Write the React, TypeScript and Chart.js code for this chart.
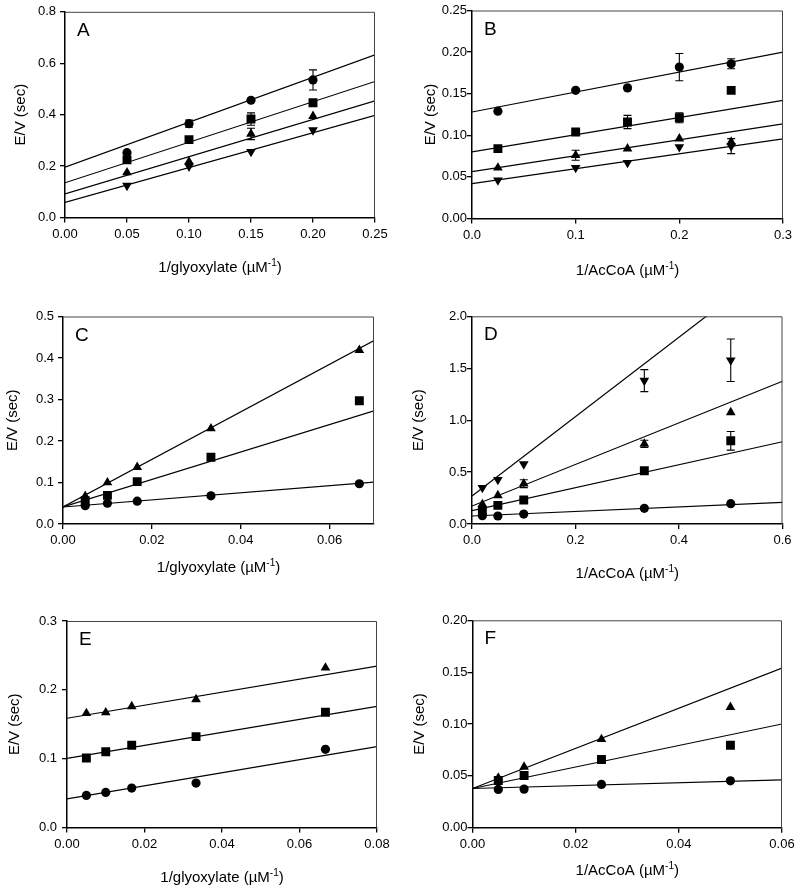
import React, { useEffect, useRef } from 'react';
import { Chart, registerables } from 'chart.js';
Chart.register(...registerables);

// ---------- Panel A ----------
const A_X = [0.05, 0.10, 0.15, 0.20];
const A_CIRCLE = [0.252, 0.365, 0.456, 0.535];
const A_CIRCLE_ERR = [0, 0.014, 0, 0.039];
const A_SQUARE = [0.224, 0.303, 0.383, 0.446];
const A_SQUARE_ERR = [0, 0, 0.024, 0];
const A_TRIANGLE = [0.175, 0.217, 0.325, 0.394];
const A_TRIANGLE_ERR = [0, 0, 0.022, 0];
const A_INVTRI = [0.124, 0.199, 0.256, 0.340];
const A_FIT_INTERCEPT = [0.196, 0.135, 0.092, 0.059];
const A_FIT_SLOPE = [1.748, 1.576, 1.448, 1.352];
const A_X_TICKS = [0, 0.05, 0.10, 0.15, 0.20, 0.25];
const A_Y_TICKS = [0, 0.2, 0.4, 0.6, 0.8];

// ---------- Panel B ----------
const B_X = [0.025, 0.10, 0.15, 0.20, 0.25];
const B_CIRCLE = [0.129, 0.154, 0.157, 0.182, 0.186];
const B_CIRCLE_ERR = [0, 0, 0, 0.0164, 0.006];
const B_SQUARE = [0.084, 0.104, 0.116, 0.121, 0.154];
const B_SQUARE_ERR = [0, 0, 0.008, 0.006, 0];
const B_TRIANGLE = [0.061, 0.076, 0.084, 0.096, 0.092];
const B_TRIANGLE_ERR = [0, 0.006, 0, 0, 0];
const B_INVTRI = [0.046, 0.061, 0.067, 0.086, 0.087];
const B_INVTRI_ERR = [0, 0, 0, 0, 0.009];
const B_FIT_INTERCEPT = [0.128, 0.080, 0.0564, 0.042];
const B_FIT_SLOPE = [0.24, 0.207, 0.191, 0.179];
const B_X_TICKS = [0, 0.1, 0.2, 0.3];
const B_Y_TICKS = [0, 0.05, 0.10, 0.15, 0.20, 0.25];

// ---------- Panel C ----------
const C_X = [0.005, 0.01, 0.0167, 0.0333, 0.0667];
const C_CIRCLE = [0.044, 0.050, 0.055, 0.068, 0.097];
const C_SQUARE = [0.056, 0.069, 0.102, 0.161, 0.297];
const C_TRIANGLE = [0.067, 0.100, 0.137, 0.230, 0.419];
const C_FIT_INTERCEPT = [0.041, 0.041, 0.041];
const C_FIT_SLOPE = [0.857, 3.31, 5.73];
const C_X_MAX = 0.07;
const C_X_TICKS = [0, 0.02, 0.04, 0.06];
const C_Y_TICKS = [0, 0.1, 0.2, 0.3, 0.4, 0.5];

// ---------- Panel D ----------
const D_X = [0.02, 0.05, 0.10, 0.333, 0.50];
const D_CIRCLE = [0.080, 0.077, 0.096, 0.151, 0.196];
const D_SQUARE = [0.125, 0.179, 0.231, 0.513, 0.801];
const D_SQUARE_ERR = [0, 0, 0, 0, 0.09];
const D_TRIANGLE = [0.19, 0.276, 0.388, 0.772, 1.074];
const D_TRIANGLE_ERR = [0, 0, 0.038, 0.035, 0];
const D_INVTRI = [0.349, 0.426, 0.577, 1.381, 1.577];
const D_INVTRI_ERR = [0, 0, 0, 0.106, 0.205];
const D_FIT_INTERCEPT = [0.077, 0.128, 0.173, 0.269];
const D_FIT_SLOPE = [0.219, 1.107, 2.003, 3.824];
const D_X_TICKS = [0, 0.2, 0.4, 0.6];
const D_Y_TICKS = [0, 0.5, 1.0, 1.5, 2.0];

// ---------- Panel E ----------
const E_X = [0.005, 0.01, 0.0167, 0.0333, 0.0667];
const E_CIRCLE = [0.0466, 0.051, 0.0573, 0.0646, 0.1136];
const E_SQUARE = [0.101, 0.110, 0.1194, 0.132, 0.1675];
const E_TRIANGLE = [0.166, 0.167, 0.176, 0.186, 0.232];
const E_FIT_INTERCEPT = [0.0417, 0.1005, 0.1587];
const E_FIT_SLOPE = [0.947, 0.944, 0.947];
const E_X_TICKS = [0, 0.02, 0.04, 0.06, 0.08];
const E_Y_TICKS = [0, 0.1, 0.2, 0.3];

// ---------- Panel F ----------
const F_X = [0.005, 0.01, 0.025, 0.05];
const F_CIRCLE = [0.0369, 0.0372, 0.0417, 0.0452];
const F_SQUARE = [0.0455, 0.0503, 0.0657, 0.0795];
const F_TRIANGLE = [0.048, 0.0587, 0.0853, 0.1163];
const F_FIT_INTERCEPT = [0.0378, 0.0378, 0.0378];
const F_FIT_SLOPE = [0.14, 1.037, 1.937];
const F_X_TICKS = [0, 0.02, 0.04, 0.06];
const F_Y_TICKS = [0, 0.05, 0.10, 0.15, 0.20];

const GLY_TITLE = '1/glyoxylate (µM';
const ACOA_TITLE = '1/AcCoA (µM';
const Y_TITLE = 'E/V (sec)';

type Marker = 'circle' | 'square' | 'triangle' | 'invtri';
type Series = { marker: Marker; y: number[]; err?: number[] };
type PanelDef = {
  letter: string;
  x: number[];
  series: Series[];
  fitB: number[];
  fitM: number[];
  xTicks: number[];
  yTicks: number[];
  xMax?: number;
  xDec: number;
  yDec: number;
  xTitle: string;
  cell: [number, number];
  area: { L: number; R: number; T: number; B: number };
  xTitleOff: number;
  yTitleX: number;
  yPad: number;
};

const CELL_W = 400;
const CELL_H = 297;
const FONT = '"Liberation Sans", Arial, Helvetica, sans-serif';

const PANELS: PanelDef[] = [
  {
    letter: 'A', x: A_X,
    series: [
      { marker: 'circle', y: A_CIRCLE, err: A_CIRCLE_ERR },
      { marker: 'square', y: A_SQUARE, err: A_SQUARE_ERR },
      { marker: 'triangle', y: A_TRIANGLE, err: A_TRIANGLE_ERR },
      { marker: 'invtri', y: A_INVTRI },
    ],
    fitB: A_FIT_INTERCEPT, fitM: A_FIT_SLOPE, xTicks: A_X_TICKS, yTicks: A_Y_TICKS,
    xDec: 2, yDec: 1, xTitle: GLY_TITLE, cell: [0, 0],
    area: { L: 65, R: 375, T: 9, B: 217.5 }, xTitleOff: 49, yTitleX: 21, yPad: 4,
  },
  {
    letter: 'B', x: B_X,
    series: [
      { marker: 'circle', y: B_CIRCLE, err: B_CIRCLE_ERR },
      { marker: 'square', y: B_SQUARE, err: B_SQUARE_ERR },
      { marker: 'triangle', y: B_TRIANGLE, err: B_TRIANGLE_ERR },
      { marker: 'invtri', y: B_INVTRI, err: B_INVTRI_ERR },
    ],
    fitB: B_FIT_INTERCEPT, fitM: B_FIT_SLOPE, xTicks: B_X_TICKS, yTicks: B_Y_TICKS,
    xDec: 1, yDec: 2, xTitle: ACOA_TITLE, cell: [400, 0],
    area: { L: 472, R: 783, T: 10.5, B: 218.5 }, xTitleOff: 51, yTitleX: 31, yPad: 0,
  },
  {
    letter: 'C', x: C_X,
    series: [
      { marker: 'circle', y: C_CIRCLE },
      { marker: 'square', y: C_SQUARE },
      { marker: 'triangle', y: C_TRIANGLE },
    ],
    fitB: C_FIT_INTERCEPT, fitM: C_FIT_SLOPE, xTicks: C_X_TICKS, yTicks: C_Y_TICKS, xMax: C_X_MAX,
    xDec: 2, yDec: 1, xTitle: GLY_TITLE, cell: [0, 297],
    area: { L: 63, R: 374, T: 316.5, B: 524 }, xTitleOff: 43, yTitleX: 13, yPad: 4,
  },
  {
    letter: 'D', x: D_X,
    series: [
      { marker: 'circle', y: D_CIRCLE },
      { marker: 'square', y: D_SQUARE, err: D_SQUARE_ERR },
      { marker: 'triangle', y: D_TRIANGLE, err: D_TRIANGLE_ERR },
      { marker: 'invtri', y: D_INVTRI, err: D_INVTRI_ERR },
    ],
    fitB: D_FIT_INTERCEPT, fitM: D_FIT_SLOPE, xTicks: D_X_TICKS, yTicks: D_Y_TICKS,
    xDec: 1, yDec: 1, xTitle: ACOA_TITLE, cell: [400, 297],
    area: { L: 472, R: 782.5, T: 316.3, B: 524 }, xTitleOff: 49, yTitleX: 19, yPad: 0,
  },
  {
    letter: 'E', x: E_X,
    series: [
      { marker: 'circle', y: E_CIRCLE },
      { marker: 'square', y: E_SQUARE },
      { marker: 'triangle', y: E_TRIANGLE },
    ],
    fitB: E_FIT_INTERCEPT, fitM: E_FIT_SLOPE, xTicks: E_X_TICKS, yTicks: E_Y_TICKS,
    xDec: 2, yDec: 1, xTitle: GLY_TITLE, cell: [0, 594],
    area: { L: 67, R: 377, T: 621, B: 827.5 }, xTitleOff: 49, yTitleX: 14.5, yPad: 5,
  },
  {
    letter: 'F', x: F_X,
    series: [
      { marker: 'circle', y: F_CIRCLE },
      { marker: 'square', y: F_SQUARE },
      { marker: 'triangle', y: F_TRIANGLE },
    ],
    fitB: F_FIT_INTERCEPT, fitM: F_FIT_SLOPE, xTicks: F_X_TICKS, yTicks: F_Y_TICKS,
    xDec: 2, yDec: 2, xTitle: ACOA_TITLE, cell: [400, 594],
    area: { L: 472.5, R: 782, T: 620.3, B: 827.7 }, xTitleOff: 42, yTitleX: 20, yPad: 0,
  },
];

function markerStyle(m: Marker) {
  switch (m) {
    case 'circle': return { pointStyle: 'circle', pointRadius: 4.6, pointRotation: 0 };
    case 'square': return { pointStyle: 'rect', pointRadius: 6.3, pointRotation: 0 };
    case 'triangle': return { pointStyle: 'triangle', pointRadius: 5.6, pointRotation: 0 };
    default: return { pointStyle: 'triangle', pointRadius: 5.6, pointRotation: 180 };
  }
}

const decorPlugin = {
  id: 'panelDecor',
  afterDatasetsDraw(chart: any) {
    const ctx = chart.ctx;
    const ys = chart.scales.y;
    ctx.save();
    ctx.strokeStyle = '#000';
    ctx.lineWidth = 1.1;
    chart.data.datasets.forEach((ds: any, i: number) => {
      if (!ds.errors) return;
      const meta = chart.getDatasetMeta(i);
      ds.data.forEach((pt: any, j: number) => {
        const e = ds.errors[j];
        if (!e) return;
        const px = meta.data[j].x;
        const top = ys.getPixelForValue(pt.y + e);
        const bot = ys.getPixelForValue(pt.y - e);
        ctx.beginPath();
        ctx.moveTo(px, top); ctx.lineTo(px, bot);
        ctx.moveTo(px - 4, top); ctx.lineTo(px + 4, top);
        ctx.moveTo(px - 4, bot); ctx.lineTo(px + 4, bot);
        ctx.stroke();
      });
    });
    ctx.restore();
  },
  afterDraw(chart: any, _args: any, opts: any) {
    const ctx = chart.ctx;
    const a = chart.chartArea;
    ctx.save();
    // frame top/right
    ctx.strokeStyle = '#444';
    ctx.lineWidth = 1;
    ctx.beginPath();
    ctx.moveTo(a.left, a.top + 0.5);
    ctx.lineTo(a.right - 0.5, a.top + 0.5);
    ctx.lineTo(a.right - 0.5, a.bottom);
    ctx.stroke();
    ctx.fillStyle = '#000';
    // panel letter
    ctx.font = `19px ${FONT}`;
    ctx.textAlign = 'left';
    ctx.textBaseline = 'alphabetic';
    ctx.fillText(opts.letter, a.left + 12, a.top + 24);
    // y title
    ctx.save();
    ctx.translate(opts.yTitleX, (a.top + a.bottom) / 2);
    ctx.rotate(-Math.PI / 2);
    ctx.font = `15px ${FONT}`;
    ctx.textAlign = 'center';
    ctx.textBaseline = 'middle';
    ctx.fillText(Y_TITLE, 0, 0);
    ctx.restore();
    // x title with superscript
    const main = opts.xTitle;
    const sup = '-1';
    const close = ')';
    ctx.font = `15px ${FONT}`;
    const wMain = ctx.measureText(main).width;
    const wClose = ctx.measureText(close).width;
    ctx.font = `10px ${FONT}`;
    const wSup = ctx.measureText(sup).width;
    const total = wMain + wSup + wClose;
    let x = (a.left + a.right) / 2 - total / 2;
    const y = a.bottom + opts.xTitleOff + 5;
    ctx.textAlign = 'left';
    ctx.textBaseline = 'alphabetic';
    ctx.font = `15px ${FONT}`;
    ctx.fillText(main, x, y);
    x += wMain;
    ctx.font = `10px ${FONT}`;
    ctx.fillText(sup, x, y - 6);
    x += wSup;
    ctx.font = `15px ${FONT}`;
    ctx.fillText(close, x, y);
    ctx.restore();
  },
};

function Panel({ p }: { p: PanelDef }) {
  const ref = useRef<HTMLCanvasElement | null>(null);
  useEffect(() => {
    if (!ref.current) return;
    const [cl, ct] = p.cell;
    const yAxisW = p.area.L - cl;
    const xAxisH = ct + CELL_H - p.area.B;
    const padTop = p.area.T - ct;
    const padRight = cl + CELL_W - p.area.R;
    const xMin = p.xTicks[0];
    const xMax = p.xMax ?? p.xTicks[p.xTicks.length - 1];
    const yMin = p.yTicks[0];
    const yMax = p.yTicks[p.yTicks.length - 1];

    const datasets: any[] = [];
    p.fitB.forEach((b, i) => {
      datasets.push({
        type: 'line',
        data: [{ x: xMin, y: b + p.fitM[i] * xMin }, { x: xMax, y: b + p.fitM[i] * xMax }],
        borderColor: '#000',
        borderWidth: 1.2,
        pointRadius: 0,
        showLine: true,
        fill: false,
      });
    });
    p.series.forEach((s) => {
      datasets.push({
        type: 'scatter',
        data: p.x.map((xv, j) => ({ x: xv, y: s.y[j] })),
        errors: s.err,
        backgroundColor: '#000',
        borderColor: '#000',
        borderWidth: 0,
        ...markerStyle(s.marker),
      });
    });

    const chart = new Chart(ref.current, {
      type: 'scatter',
      data: { datasets },
      plugins: [decorPlugin],
      options: {
        responsive: false,
        animation: false,
        events: [],
        layout: { padding: { top: padTop, right: padRight, left: 0, bottom: 0 } },
        plugins: {
          legend: { display: false },
          tooltip: { enabled: false },
          panelDecor: {
            letter: p.letter,
            xTitle: p.xTitle,
            xTitleOff: p.xTitleOff,
            yTitleX: p.yTitleX,
          },
        } as any,
        scales: {
          x: {
            type: 'linear',
            min: xMin,
            max: xMax,
            afterBuildTicks: (sc: any) => { sc.ticks = p.xTicks.map((v) => ({ value: v })); },
            afterFit: (sc: any) => { sc.height = xAxisH; },
            ticks: {
              font: { family: FONT, size: 13 },
              color: '#000',
              padding: 4,
              maxRotation: 0,
              autoSkip: false,
              callback: (v: any) => Number(v).toFixed(p.xDec),
            },
            grid: { drawOnChartArea: false, drawTicks: true, tickLength: 5, color: '#000', lineWidth: 1.3 },
            border: { display: true, color: '#000', width: 1.5 },
          },
          y: {
            type: 'linear',
            min: yMin,
            max: yMax,
            afterBuildTicks: (sc: any) => { sc.ticks = p.yTicks.map((v) => ({ value: v })); },
            afterFit: (sc: any) => { sc.width = yAxisW; },
            ticks: {
              font: { family: FONT, size: 13 },
              color: '#000',
              padding: p.yPad,
              autoSkip: false,
              callback: (v: any) => Number(v).toFixed(p.yDec),
            },
            grid: { drawOnChartArea: false, drawTicks: true, tickLength: 5, color: '#000', lineWidth: 1.3 },
            border: { display: true, color: '#000', width: 1.5 },
          },
        },
      } as any,
    });
    return () => chart.destroy();
  }, [p]);

  return (
    <div style={{ position: 'absolute', left: p.cell[0], top: p.cell[1], width: CELL_W, height: CELL_H }}>
      <canvas ref={ref} width={CELL_W} height={CELL_H} style={{ display: 'block' }} />
    </div>
  );
}

export default function App() {
  return (
    <div style={{ position: 'absolute', left: 0, top: 0, width: 800, height: 891, background: '#fff' }}>
      {PANELS.map((p) => <Panel key={p.letter} p={p} />)}
    </div>
  );
}
